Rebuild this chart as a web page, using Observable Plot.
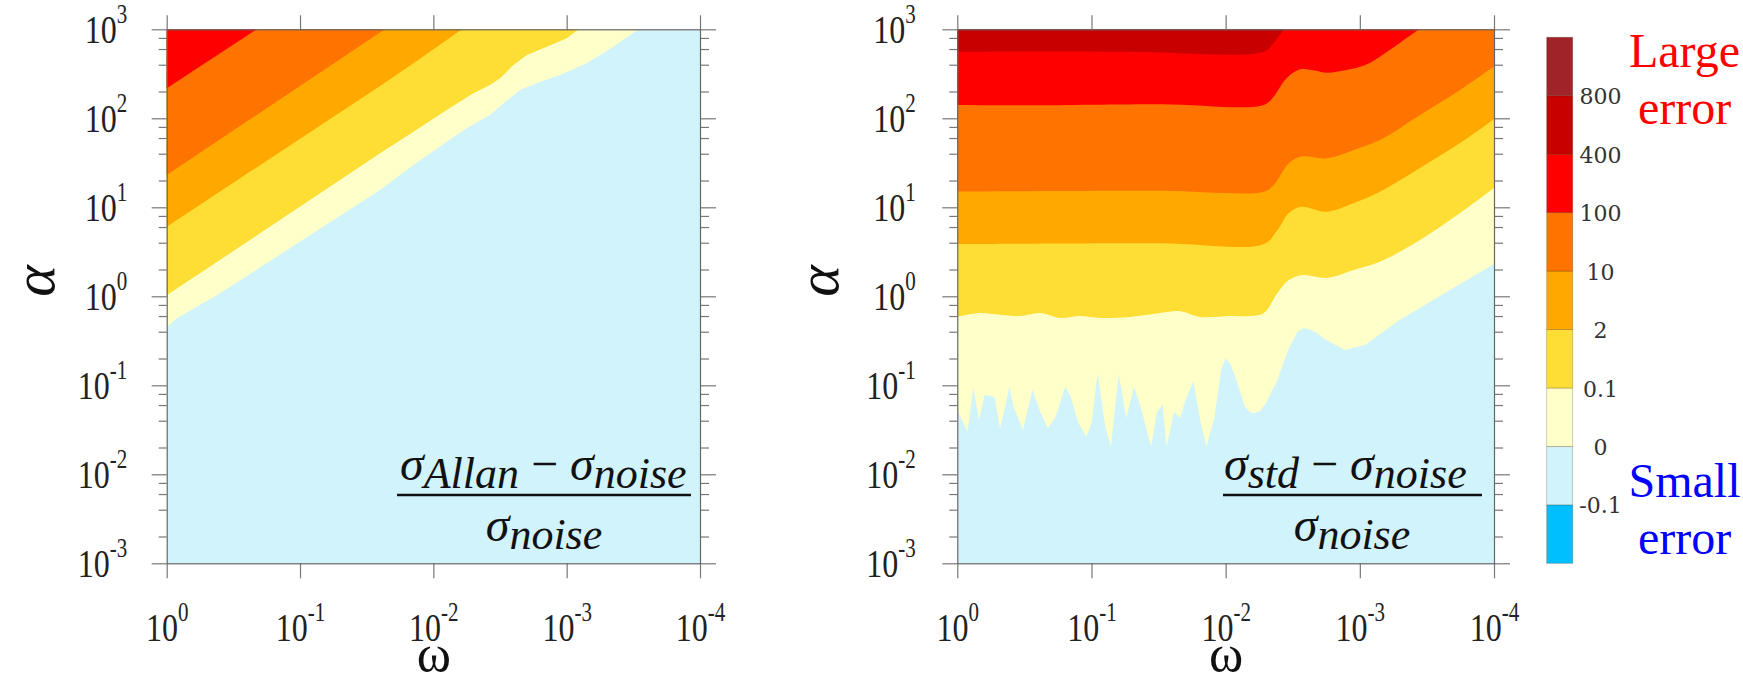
<!DOCTYPE html>
<html><head><meta charset="utf-8">
<script src="https://cdn.jsdelivr.net/npm/d3@7"></script>
<script src="https://cdn.jsdelivr.net/npm/@observablehq/plot@0.6"></script>
<style>
html,body{margin:0;padding:0;background:#fff;}
#root{position:relative;width:1743px;height:689px;overflow:hidden;background:#fff;}
.panel{position:absolute;top:0;}
.panel svg{overflow:visible;background:transparent !important;max-width:none !important;}
</style></head><body><div id="root"></div>
<script>
// ---------- axes ----------
const omegaTicks = [1, 0.1, 0.01, 0.001, 0.0001];
const omegaTickLabels = ["10^0", "10^-1", "10^-2", "10^-3", "10^-4"];
const alphaTicks = [0.001, 0.01, 0.1, 1, 10, 100, 1000];
const alphaTickLabels = ["10^-3", "10^-2", "10^-1", "10^0", "10^1", "10^2", "10^3"];
const alphaMinorMultipliers = [2, 4, 6, 8];
const alphaDecades = [0.001, 0.01, 0.1, 1, 10, 100];

// ---------- colour levels ----------
const levelLabels = ["-0.1", "0", "0.1", "2", "10", "100", "400", "800"];
const bandColors = ["#00BFFF", "#D1F3FC", "#FFFFCA", "#FEDE34", "#FFA800", "#FF7300", "#FF0000", "#C80000", "#A0232A"];

// ---------- left panel: Allan, contour boundaries [omega, alpha] ----------
const allanB0 = [[1,0.45],[0.85,0.56],[0.7,0.66],[0.55,0.82],[0.44,0.98],[0.2,2.1],[0.08,5.1],[0.0251,15.6],[0.0141,29.9],[0.00794,54.6],[0.00561,77.2],[0.00376,109],[0.00298,147],[0.00224,208],[0.00168,247],[0.00112,307],[0.000706,415],[0.000446,637],[0.00029,1000]];
const allanB01 = [[1,1.03],[0.3,3.4],[0.0251,40.4],[0.0141,70.7],[0.00794,124],[0.00501,191],[0.00376,237],[0.00316,281],[0.00251,397],[0.00199,514],[0.00141,637],[0.000998,792],[0.000817,1000]];
const allanB2 = [[1,6.05],[0.0251,230],[0.0141,415],[0.00609,1000]];
const allanB10 = [[1,23.1],[0.0231,1000]];
const allanB100 = [[1,217],[0.211,1000]];

// ---------- right panel: std ----------
const stdB0 = [[1,0.0527],[0.839,0.0301],[0.760,0.0925],[0.689,0.0407],[0.625,0.0778],[0.530,0.0745],[0.480,0.0329],[0.408,0.0964],[0.381,0.0575],[0.324,0.0315],[0.275,0.0885],[0.241,0.0505],[0.211,0.0329],[0.185,0.0444],[0.157,0.0964],[0.143,0.0745],[0.125,0.0374],[0.109,0.0265],[0.0993,0.039],[0.0901,0.136],[0.0789,0.0343],[0.0716,0.0204],[0.0627,0.136],[0.0551,0.0426],[0.0482,0.0964],[0.0423,0.0527],[0.0359,0.0204],[0.0325,0.0505],[0.0295,0.0601],[0.0276,0.0204],[0.0242,0.0505],[0.0219,0.0426],[0.0199,0.0684],[0.0174,0.110],[0.0153,0.0374],[0.0139,0.0204],[0.0121,0.0444],[0.0108,0.15],[0.00998,0.201],[0.0092,0.17],[0.00847,0.125],[0.00718,0.0575],[0.0066,0.05],[0.00609,0.0484],[0.0055,0.052],[0.00501,0.0628],[0.00411,0.115],[0.00338,0.26],[0.00291,0.40],[0.0026,0.44],[0.00215,0.40],[0.00182,0.33],[0.00129,0.249],[0.000916,0.284],[0.000505,0.542],[0.000213,1.18],[0.0001,2.31]];
const stdB01 = [[1,0.59],[0.678,0.65],[0.481,0.62],[0.341,0.60],[0.242,0.65],[0.171,0.57],[0.121,0.60],[0.0861,0.57],[0.0515,0.586],[0.0308,0.649],[0.0218,0.68],[0.0155,0.586],[0.00927,0.6],[0.00658,0.6],[0.00519,0.649],[0.00411,1.09],[0.00338,1.52],[0.00268,1.73],[0.00176,1.61],[0.00111,1.98],[0.000708,2.45],[0.000356,4.29],[0.000179,8.63],[0.0001,16.5]];
const stdB2 = [[1,3.87],[0.03,3.95],[0.00519,3.87],[0.00411,5.56],[0.00338,8.63],[0.00277,10.1],[0.00176,8.93],[0.00111,11.2],[0.000708,15],[0.000356,27.7],[0.000179,52.7],[0.0001,97.7]];
const stdB10 = [[1,15],[0.03,15.3],[0.00519,15],[0.00439,17.8],[0.00338,31.2],[0.00277,37],[0.00176,35.5],[0.00111,44],[0.000708,57],[0.000356,109],[0.000179,208],[0.0001,381]];
const stdB100 = [[1,141],[0.3,140],[0.03,144],[0.00519,141],[0.00439,175],[0.00361,269],[0.00306,334],[0.00268,358],[0.00213,343],[0.00176,325],[0.00126,349],[0.000908,397],[0.000708,492],[0.000363,1000]];
const stdB400 = [[1,560],[0.3,565],[0.05,558],[0.00519,561],[0.00439,701],[0.00385,908],[0.00365,1000]];

const alphaMinor = alphaDecades.flatMap(d => alphaMinorMultipliers.map(m => m * d));
const lookup = (ticks, labels) => d => { const i = ticks.indexOf(d); return i < 0 ? "" : labels[i]; };
const SERIF = "Liberation Serif, Times New Roman, serif";

function panel({bounds, width, marginLeft, marginRight, yPad, alphaDx}) {
  const marks = [Plot.frame({fill: bandColors[1]})];
  for (const [pts, ci, curve] of bounds) {
    marks.push(Plot.areaY(pts, {x: d => d[0], y1: d => d[1], y2: 1000, fill: bandColors[ci], curve}));
  }
  const tk = {stroke: "#777", strokeWidth: 1.2};
  marks.push(
    Plot.axisX({anchor: "bottom", ticks: omegaTicks, tickSize: 15, tickPadding: 34, tickFormat: lookup(omegaTicks, omegaTickLabels), fontSize: 32, fontFamily: SERIF, fill: "#222", ...tk}),
    Plot.axisX({anchor: "top", ticks: omegaTicks, tickSize: 15, tickFormat: () => "", ...tk}),
    Plot.axisY({anchor: "left", ticks: alphaTicks, tickSize: 15, tickPadding: yPad, tickFormat: lookup(alphaTicks, alphaTickLabels), fontSize: 32, fontFamily: SERIF, fill: "#222", ...tk}),
    Plot.axisY({anchor: "left", ticks: alphaMinor, tickSize: 8, tickFormat: () => "", ...tk}),
    Plot.axisY({anchor: "right", ticks: alphaTicks, tickSize: 15, tickFormat: () => "", ...tk}),
    Plot.axisY({anchor: "right", ticks: alphaMinor, tickSize: 8, tickFormat: () => "", ...tk}),
    Plot.frame({stroke: "#666", strokeWidth: 1.2}),
    Plot.text(["α"], {frameAnchor: "left", dx: alphaDx, text: d => d, rotate: -90, fontSize: 60, fontStyle: "italic", fontFamily: SERIF, fill: "#111"}),
    Plot.text(["ω"], {frameAnchor: "bottom", dy: 107, text: d => d, fontSize: 52, fontFamily: SERIF, fill: "#111"})
  );
  const svg = Plot.plot({
    width, height: 689, marginLeft, marginRight, marginTop: 29.3, marginBottom: 125.7,
    style: {fontFamily: SERIF, background: "transparent"},
    x: {type: "log", domain: [1, 0.0001]},
    y: {type: "log", domain: [0.001, 1000]},
    marks
  });
  // superscripts for "10^n", with the tall narrow look of the original labels
  d3.select(svg).selectAll('g[aria-label$="tick label"] text').each(function () {
    const t = this.textContent;
    if (!t.includes("^")) return;
    const [b, e] = t.split("^");
    const s = d3.select(this);
    s.text(b);
    s.append("tspan").attr("font-size", 21).attr("dy", -16).text(e);
    const tr = this.getAttribute("transform");
    if (tr) {
      this.setAttribute("transform", tr + " scale(1,1.25)");
    } else {
      const x = +(this.getAttribute("x") || 0), y = +(this.getAttribute("y") || 0);
      this.removeAttribute("x"); this.removeAttribute("y");
      this.setAttribute("transform", `translate(${x},${y}) scale(1,1.25)`);
    }
  });
  return svg;
}

function addFraction(svg, {numX, lineX1, lineX2, denX, sub}) {
  const g = d3.select(svg).append("g")
    .attr("font-family", SERIF).attr("font-style", "italic").attr("fill", "#111")
    .attr("text-anchor", "start")
    .style("white-space", "pre");
  const num = g.append("text").attr("x", numX).attr("y", 480).attr("font-size", 48).attr("text-anchor", "start");
  num.append("tspan").text("σ");
  num.append("tspan").attr("font-size", 44).attr("dy", 8).text(sub);
  num.append("tspan").attr("dy", -8).attr("font-style", "normal").text(" − ");
  num.append("tspan").text("σ");
  num.append("tspan").attr("font-size", 44).attr("dy", 8).text("noise");
  g.append("line").attr("x1", lineX1).attr("x2", lineX2).attr("y1", 495).attr("y2", 495)
    .attr("stroke", "#111").attr("stroke-width", 2.6);
  const den = g.append("text").attr("x", denX).attr("y", 541).attr("text-anchor", "middle").attr("font-size", 48);
  den.append("tspan").text("σ");
  den.append("tspan").attr("font-size", 44).attr("dy", 8).text("noise");
}

const root = document.getElementById("root");
function place(el, left, width) {
  const div = document.createElement("div");
  div.className = "panel";
  div.style.left = left + "px";
  div.style.width = width + "px";
  div.appendChild(el);
  root.appendChild(div);
}

const left = panel({
  bounds: [[allanB0, 2, "linear"], [allanB01, 3, "linear"], [allanB2, 4, "linear"], [allanB10, 5, "linear"], [allanB100, 6, "linear"]],
  width: 760, marginLeft: 166.7, marginRight: 60, yPad: 25, alphaDx: -132.7
});
addFraction(left, {numX: 400, lineX1: 397, lineX2: 691, denX: 544, sub: "Allan"});
place(left, 0, 760);

const right = panel({
  bounds: [[stdB0, 2, "linear"], [stdB01, 3, "catmull-rom"], [stdB2, 4, "catmull-rom"], [stdB10, 5, "catmull-rom"], [stdB100, 6, "catmull-rom"], [stdB400, 7, "catmull-rom"]],
  width: 754, marginLeft: 177.3, marginRight: 40, yPad: 27, alphaDx: -139.3
});
addFraction(right, {numX: 444, lineX1: 443, lineX2: 702, denX: 572, sub: "std"});
place(right, 780, 754);

// ---------- colour bar ----------
const bands = bandColors.map((c, i) => ({i, c}));
const cbar = Plot.plot({
  width: 243, height: 689, marginLeft: 46.7, marginRight: 170.3, marginTop: 37.3, marginBottom: 125.7,
  style: {background: "transparent"},
  x: {domain: [0, 1], axis: null},
  y: {domain: [0, 9], axis: null},
  marks: [
    Plot.rect(bands, {x1: 0, x2: 1, y1: d => d.i, y2: d => d.i + 1, fill: d => d.c, stroke: "rgba(60,40,0,0.3)", strokeWidth: 0.8}),
    Plot.text(levelLabels, {x: 1, y: (d, i) => i + 1, dx: 27.3, dy: 1, text: d => d, fontSize: 22, fontFamily: "DejaVu Serif, serif", fill: "#333"}),
    Plot.text(["Large\nerror"], {frameAnchor: "top-left", dx: 137.3, dy: -11.3, text: d => d, textAnchor: "middle", lineAnchor: "top", lineHeight: 1.19, fontSize: 48, fontFamily: SERIF, fill: "#FF0000"}),
    Plot.text(["Small\nerror"], {frameAnchor: "top-left", dx: 137.3, dy: 418.7, text: d => d, textAnchor: "middle", lineAnchor: "top", lineHeight: 1.19, fontSize: 48, fontFamily: SERIF, fill: "#0000FF"})
  ]
});
place(cbar, 1500, 243);
</script></body></html>
